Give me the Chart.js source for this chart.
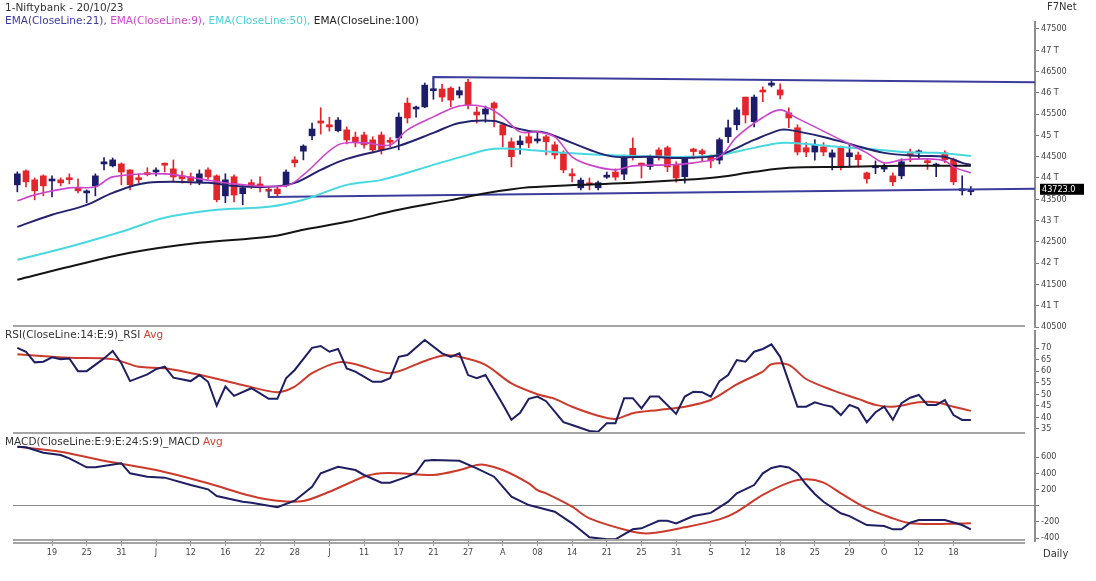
<!DOCTYPE html>
<html>
<head>
<meta charset="utf-8">
<script src="https://cdn.jsdelivr.net/npm/chart.js@4.4.0/dist/chart.umd.min.js"></script>
<style>
  body { margin: 0; background: #fff; width: 1096px; height: 581px; overflow: hidden; position: relative;
         font-family: "DejaVu Sans", sans-serif; }
  canvas { position: absolute; left: 0; }
  .t { position: absolute; font-size: 10.5px; color: #333; white-space: nowrap; z-index: 2; }
  .red { color: #d04030; }
</style>
</head>
<body>
<canvas id="price" width="1096" height="330" style="top:0"></canvas>
<canvas id="rsi" width="1096" height="104" style="top:330px"></canvas>
<canvas id="macd" width="1096" height="147" style="top:434px"></canvas>

<div class="t" style="left:5px;top:1px">1-Niftybank - 20/10/23</div>
<div class="t" style="left:5px;top:14px"><span style="color:#3a3aa0">EMA(CloseLine:21),</span> <span style="color:#cc48cc">EMA(CloseLine:9),</span> <span style="color:#48d0dc">EMA(CloseLine:50),</span> <span style="color:#222">EMA(CloseLine:100)</span></div>
<div class="t" style="left:1047px;top:1px;font-size:10px">F7Net</div>
<div class="t" style="left:5px;top:328px">RSI(CloseLine:14:E:9)_RSI <span class="red">Avg</span></div>
<div class="t" style="left:5px;top:435px">MACD(CloseLine:E:9:E:24:S:9)_MACD <span class="red">Avg</span></div>
<div class="t" style="left:1043px;top:548px;font-size:10px">Daily</div>

<script>
// daily candles, 15 May 2023 .. 20 Oct 2023 (bar index 0..110)
const opens = [43839,44167,43956,44050,43930,43956,43990,43768,43650,43815,
  44330,44285,44330,44190,44000,44120,44140,44330,44215,44050,
  44030,43910,44190,44050,43580,44030,43630,43890,43860,43720,
  43740,43840,44425,44630,44990,45340,45250,45110,45130,44960,
  45010,44895,45010,44880,44940,45760,45620,45670,46050,46090,
  46110,45950,46250,45550,45500,45760,45250,44850,44780,44970,
  44870,44970,44780,44590,44100,43770,43870,43770,44020,44140,
  44090,44700,44350,44270,44660,44710,44310,44030,44680,44640,
  44500,44420,44970,45250,45900,45320,46050,46180,46070,45530,
  45180,44710,44610,44730,44490,44710,44500,44540,44120,44240,
  44210,44050,44050,44610,44590,44400,44280,44590,44430,43700,43680];
const highs = [44144,44191,44003,44073,44050,44003,44097,43980,43721,44097,
  44480,44470,44355,44190,44100,44240,44240,44355,44425,44160,
  44120,44190,44240,44073,44100,44073,43820,43960,44030,43770,
  43790,44190,44500,44780,45290,45650,45430,45420,45200,45080,
  45080,44970,45080,44950,45530,45880,45690,46230,46370,46200,
  46140,46140,46320,45670,45690,45790,45290,44940,44990,45050,
  45080,45010,44850,44640,44215,44000,44000,43930,44140,44215,
  44540,44940,44350,44540,44710,44750,44380,44500,44700,44680,
  44540,44940,45360,45650,45900,45950,46140,46280,46210,45650,
  45250,44830,44900,44830,44660,44750,44780,44610,44140,44400,
  44330,44120,44450,44680,44660,44450,44350,44640,44470,44050,43800];
const lows = [43674,43792,43487,43580,43557,43815,43862,43650,43417,43580,
  44190,44260,43840,43720,43880,44050,44050,44140,43910,43880,
  43840,43840,43980,43440,43420,43440,43370,43750,43670,43560,
  43560,43790,44260,44425,44900,45030,45100,45080,44800,44730,
  44700,44590,44560,44730,44660,45290,45430,45650,45850,45800,
  45670,45880,45620,45290,45310,45200,44730,44260,44560,44710,
  44820,44540,44450,44120,43910,43720,43720,43720,43990,43950,
  43960,44420,44000,44200,44420,44150,43900,43880,44450,44400,
  44240,44330,44830,45130,45290,45200,45790,46140,45860,45180,
  44540,44500,44420,44520,44190,44190,44260,44260,43880,44100,
  44150,43820,43980,44380,44450,44200,44030,44360,43840,43600,43600];
const closes = [44097,43909,43698,43815,43970,43886,43960,43698,43690,44050,
  44380,44425,44140,43840,43960,44080,44180,44300,44025,43980,
  43935,44097,44025,43490,43956,43600,43770,43840,43770,43690,
  43630,44140,44355,44750,45150,45290,45200,45360,44895,44850,
  44780,44660,44660,44840,45430,45410,45650,46180,46090,45900,
  45830,46050,45710,45480,45620,45640,45010,44500,44870,44820,
  44900,44850,44540,44190,44050,43950,43840,43890,44060,44020,
  44490,44490,44300,44500,44500,44260,44000,44470,44620,44570,
  44400,44900,45180,45600,45480,45900,46020,46230,45950,45410,
  44610,44610,44780,44610,44590,44260,44590,44430,43980,44270,
  44260,43910,44380,44520,44610,44360,44310,44430,43910,43740,43723];

// moving averages: [bar index, value]
const ema9 = [[0,43463],[2,43604],[6,43768],[9,43792],[11,44026],[17,44097],[21,43980],[25,43862],[31,43815],[33,44073],
  [37,44777],[40,44824],[43,44777],[45,45130],[48,45435],[51,45693],[54,45669],[56,45435],[58,45083],[60,45083],
  [62,44965],[64,44496],[66,44308],[69,44191],[71,44285],[75,44308],[78,44355],[81,44496],[83,44965],[86,45420],
  [88,45600],[90,45400],[92,45200],[95,44895],[98,44590],[100,44355],[102,44425],[105,44449],[107,44402],[108,44261],[110,44120]];
const ema21 = [[0,42853],[4,43135],[8,43369],[11,43651],[15,43886],[22,43886],[25,43815],[29,43792],[32,43886],[35,44191],
  [38,44449],[44,44754],[48,45059],[51,45294],[55,45341],[57,45200],[59,45106],[61,45059],[64,44824],[67,44590],
  [69,44496],[73,44496],[77,44472],[81,44543],[85,44895],[88,45130],[89,45130],[93,44965],[96,44801],[100,44590],
  [104,44519],[107,44496],[109,44355],[110,44308]];
const ema50 = [[0,42078],[6,42384],[12,42736],[17,43064],[23,43252],[29,43322],[33,43487],[38,43839],[42,43956],[48,44308],
  [52,44543],[55,44684],[59,44660],[63,44590],[67,44543],[71,44519],[77,44496],[81,44543],[85,44707],[88,44824],
  [91,44801],[95,44730],[98,44684],[102,44613],[106,44590],[110,44519]];
const ema100 = [[0,41609],[6,41914],[13,42243],[21,42477],[29,42618],[33,42783],[38,42970],[44,43252],[50,43480],[54,43640],
  [59,43780],[65,43839],[71,43886],[77,43956],[81,44026],[85,44144],[89,44238],[95,44261],[102,44285],[110,44285]];

// trendlines: [bar index, value]
const xMin = -0.5, xMax = 117.4;
const topLine = [[48,46120],[48,46370],[xMax,46250]];
const bottomLine = [[29,43720],[29,43556],[xMax,43745]];

const rsi = [[0,70.1],[1,68.4],[2,63.8],[3,64.1],[4,66],[5,65.2],[6,65.5],[7,60],[8,60],[10,65.5],[11,68.7],[12,63.4],
  [13,55.7],[15,58.6],[16,60.9],[17,61.9],[18,57.2],[20,55.7],[21,58.3],[22,55.4],[23,45.1],[24,53.3],[25,49.3],
  [27,52.6],[28,50.4],[29,48],[30,48],[31,56.9],[32,60.5],[34,70.1],[35,70.9],[36,68.4],[37,69.6],[38,61.2],[39,59.8],
  [41,55.4],[42,55.4],[43,56.9],[44,66.2],[45,67],[47,73.5],[49,67.7],[50,66.2],[51,67.7],[52,58.3],[53,56.9],[54,58.3],
  [56,45.7],[57,39],[58,42],[59,48],[60,49],[61,47],[63,37.9],[64,36.7],[66,34.1],[67,33.8],[68,37.5],[69,37.5],
  [70,48.3],[71,48.3],[72,43.9],[73,49],[74,49],[76,41.5],[77,49],[78,51.1],[79,50.9],[80,49],[81,55.7],[82,58.3],
  [83,64.8],[84,64.1],[85,68.4],[86,69.6],[87,71.6],[88,66.2],[90,44.6],[91,44.6],[92,46.5],[93,45.4],[94,44.6],
  [95,41],[96,45.4],[97,43.9],[98,37.9],[99,42.2],[100,44.6],[101,38.9],[102,46.1],[103,48.5],[104,49.7],[105,45.4],
  [106,45.4],[107,47.5],[108,41],[109,38.9],[110,38.9]];
const rsiAvg = [[0,67.3],[6,65.8],[11,65.2],[14,61.9],[17,61.2],[22,57.6],[26,54],[30,50.9],[32,53.3],[34,59.1],
  [37,63.8],[39,63],[43,59.1],[47,64.4],[49,66.7],[51,66.2],[54,62.7],[57,54.7],[60,50],[62,48],[64,44.6],[67,40.7],
  [69,39.3],[71,41.8],[74,43.2],[77,44.6],[80,47.5],[83,54.3],[86,59.8],[87,63],[89,62.7],[91,56.6],[94,51.8],
  [97,48],[99,45.4],[101,44.6],[104,46.5],[106,46.5],[108,44.6],[110,42.8]];

const macd = [[0,727],[1,720],[3,653],[5,625],[6,584],[8,473],[9,473],[12,522],[13,399],[15,357],[17,345],[20,254],
  [22,201],[23,118],[26,48],[27,36],[30,-21],[32,60],[34,233],[35,399],[37,480],[39,439],[40,378],[42,283],[43,283],
  [45,357],[46,406],[47,554],[48,563],[51,554],[53,460],[55,357],[57,110],[59,7],[60,-21],[62,-76],[64,-219],
  [66,-392],[68,-416],[69,-416],[71,-293],[72,-281],[74,-187],[75,-187],[76,-219],[78,-129],[80,-90],[82,48],
  [83,152],[85,254],[86,399],[87,465],[88,490],[89,470],[90,400],[91,260],[92,143],[93,48],[95,-95],[96,-129],
  [98,-240],[100,-252],[101,-293],[102,-293],[103,-211],[104,-178],[107,-178],[109,-240],[110,-293]];
const macdAvg = [[0,727],[5,665],[10,554],[16,439],[22,275],[27,118],[30,60],[33,57],[36,171],[40,357],[42,399],
  [44,399],[48,378],[51,439],[53,501],[54,501],[56,439],[59,275],[60,190],[61,150],[64,-14],[66,-157],[71,-322],
  [73,-342],[77,-268],[81,-170],[83,-76],[86,131],[89,283],[91,324],[93,283],[95,152],[98,-34],[101,-157],
  [103,-219],[106,-228],[110,-219]];

const priceTicks = [40500,41000,41500,42000,42500,43000,43500,44000,44500,45000,45500,46000,46500,47000,47500];
const rsiTicks = [35,40,45,50,55,60,65,70];
const macdTicks = [-400,-200,0,200,400,600];
const xTickIdx = [4,8,12,16,20,24,28,32,36,40,44,48,52,56,60,64,68,72,76,80,84,88,92,96,100,104,108];
const xTickLabels = ['19','25','31','J','12','16','22','28','J','11','17','21','27','A','08','14','21','25','31','S','12','18','25','29','O','12','18'];

const upColor = '#1c1c6a', downColor = '#e3262c';
const navy = '#1e1e62', avgRed = '#cc3a2c', sepGray = '#a4a4a4';
const tickFont = { family: '"DejaVu Sans Condensed","DejaVu Sans",sans-serif', size: 9 };

const pts = pairs => pairs.map(([x, y]) => ({ x, y }));
const candleColors = closes.map((c, i) => c >= opens[i] ? upColor : downColor);

function xAxis(show) {
  const ax = {
    type: 'linear', min: xMin, max: xMax, offset: false, display: show,
    afterBuildTicks: s => { s.ticks = xTickIdx.map(v => ({ value: v })); },
    grid: { drawOnChartArea: false, tickLength: 5, tickColor: '#999' },
    border: { display: false },
    ticks: { font: tickFont, color: '#444', maxRotation: 0, autoSkip: false, padding: 1,
             callback: (v, i) => xTickLabels[i] }
  };
  if (show) ax.afterFit = s => { s.height = 40; s.paddingLeft = 0; s.paddingRight = 0; };
  return ax;
}

function yAxis(min, max, ticks, fmt, zeroLine) {
  return {
    position: 'right', min, max,
    // fixed axis width, and no extra room for the end labels so panels line up
    afterFit: s => { s.width = 61; s.paddingTop = 0; s.paddingBottom = 0; },
    afterBuildTicks: s => { s.ticks = ticks.map(v => ({ value: v })); },
    grid: {
      drawOnChartArea: !!zeroLine, tickLength: 4, tickColor: '#777',
      color: c => (zeroLine && c.tick && c.tick.value === 0) ? '#8a8a8a' : 'rgba(0,0,0,0)'
    },
    border: { display: true, color: '#8c8c8c', width: 2 },
    ticks: { font: tickFont, color: '#444', padding: 2, autoSkip: false, callback: fmt }
  };
}

// gray separators under each panel (and double line under MACD), price tag on the price axis
const panelLines = {
  id: 'panelLines',
  afterDatasetsDraw(chart, args, opts) {
    const { ctx, chartArea: a } = chart;
    ctx.save();
    ctx.strokeStyle = sepGray;
    ctx.lineWidth = 2;
    (opts.offsets || [0]).forEach(o => {
      ctx.beginPath();
      ctx.moveTo(a.left, a.bottom - 1 + o);
      ctx.lineTo(a.right - 10, a.bottom - 1 + o);
      ctx.stroke();
    });
    if (opts.tag) {
      const v = closes[closes.length - 1];
      const y = chart.scales.y.getPixelForValue(v);
      ctx.fillStyle = '#000';
      ctx.fillRect(a.right + 5, y - 6, 44, 11);
      ctx.fillStyle = '#fff';
      ctx.font = '9px "DejaVu Sans Condensed","DejaVu Sans",sans-serif';
      ctx.textBaseline = 'middle';
      ctx.fillText(v.toFixed(1), a.right + 7, y);
    }
    ctx.restore();
  }
};

function line(data, color, width, tension) {
  return { type: 'line', data: pts(data), borderColor: color, borderWidth: width, pointRadius: 0,
           tension: tension, fill: false };
}

const common = { responsive: false, animation: false, events: [],
                 plugins: { legend: { display: false }, tooltip: { enabled: false } } };

new Chart(document.getElementById('price'), {
  type: 'bar',
  data: {
    datasets: [
      line(ema9, '#cc44cc', 1.6, 0.35),
      line(ema21, '#24246e', 2, 0.35),
      line(ema50, '#48d8e0', 2, 0.35),
      line(ema100, '#141414', 2, 0.35),
      line(topLine, '#3c3c9c', 2, 0),
      line(bottomLine, '#3c3c9c', 2, 0),
      { type: 'bar', data: opens.map((o, i) => ({ x: i, y: [Math.min(o, closes[i]), Math.max(o, closes[i])] })),
        backgroundColor: candleColors, barThickness: 6, minBarLength: 2, grouped: false },
      { type: 'bar', data: lows.map((l, i) => ({ x: i, y: [l, highs[i]] })),
        backgroundColor: candleColors, barThickness: 1, grouped: false }
    ]
  },
  options: Object.assign({}, common, {
    layout: { padding: { left: 13, top: 22, bottom: 3, right: 0 } },
    scales: {
      x: xAxis(false),
      y: yAxis(40500, 47664, priceTicks, v => v % 1000 === 0 ? (v / 1000) + ' T' : String(v), false)
    },
    plugins: Object.assign({}, common.plugins, { panelLines: { tag: true } })
  }),
  plugins: [panelLines]
});

new Chart(document.getElementById('rsi'), {
  type: 'line',
  data: { datasets: [ line(rsi, navy, 2, 0), line(rsiAvg, avgRed, 2, 0.3) ] },
  options: Object.assign({}, common, {
    layout: { padding: { left: 13, top: 0, bottom: 0, right: 0 } },
    scales: { x: xAxis(false), y: yAxis(32.8, 77.8, rsiTicks, v => String(v), false) },
    plugins: Object.assign({}, common.plugins, { panelLines: {} })
  }),
  plugins: [panelLines]
});

new Chart(document.getElementById('macd'), {
  type: 'line',
  data: { datasets: [ line(macd, navy, 2, 0), line(macdAvg, avgRed, 2, 0.3) ] },
  options: Object.assign({}, common, {
    layout: { padding: { left: 13, top: 0, bottom: 0, right: 0 } },
    scales: { x: xAxis(true), y: yAxis(-437, 884, macdTicks, v => v === 0 ? '' : String(v), true) },
    plugins: Object.assign({}, common.plugins, { panelLines: { offsets: [0, 3] } })
  }),
  plugins: [panelLines]
});
</script>
</body>
</html>
